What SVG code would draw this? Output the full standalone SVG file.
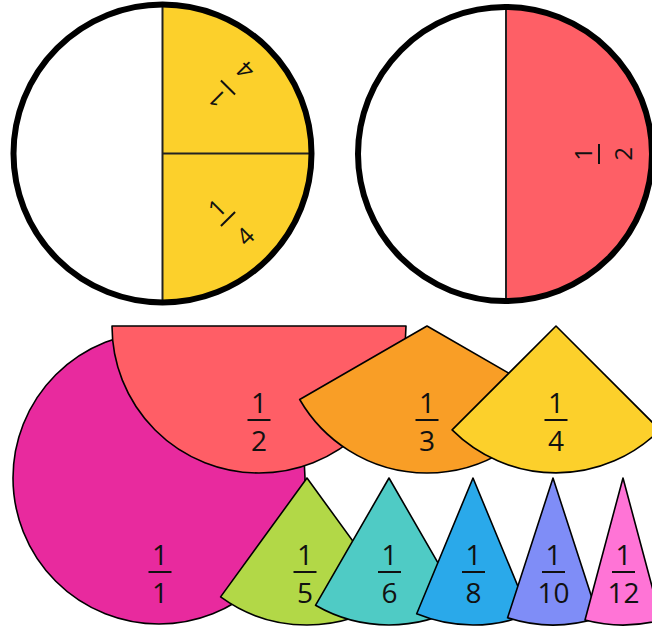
<svg xmlns="http://www.w3.org/2000/svg" width="652" height="626" viewBox="0 0 652 626">
<style>
  .piece { stroke: #000; stroke-width: 1.6; stroke-linejoin: round; }
  .num { font-family: "Open Sans", "Noto Sans", sans-serif; font-size: 28px; fill: #111; text-anchor: middle; }
  .snum { font-family: "Open Sans", "Noto Sans", sans-serif; font-size: 24px; fill: #111; text-anchor: middle; }
  .bar { stroke: #111; stroke-width: 2; }
  .outline { fill: none; stroke: #000; stroke-width: 6; }
  .div { stroke: #222; stroke-width: 2; }
</style>
<rect width="652" height="626" fill="#fff"/>

<!-- Top-left circle: two quarters -->
<g id="circle-quarters">
  <circle cx="162.5" cy="153.5" r="149" fill="#fff"/>
  <path d="M162.5,4.5 A149,149 0 0 1 311.5,153.5 L162.5,153.5 Z" fill="#FCD02B"/>
  <path d="M162.5,302.5 A149,149 0 0 0 311.5,153.5 L162.5,153.5 Z" fill="#FCD02B"/>
  <line class="div" x1="162.5" y1="4.5" x2="162.5" y2="302.5"/>
  <line class="div" x1="162.5" y1="153.5" x2="311.5" y2="153.5"/>
  <circle class="outline" cx="162.5" cy="153.5" r="149"/>
  <g transform="translate(228,87.5) rotate(225)">
    <text class="snum" x="0" y="-7">1</text>
    <line class="bar" x1="-10" y1="0" x2="10" y2="0"/>
    <text class="snum" x="0" y="33">4</text>
  </g>
  <g transform="translate(228,219) rotate(-45)">
    <text class="snum" x="0" y="-7">1</text>
    <line class="bar" x1="-10" y1="0" x2="10" y2="0"/>
    <text class="snum" x="0" y="33">4</text>
  </g>
</g>

<!-- Top-right circle: one half -->
<g id="circle-half">
  <circle cx="505" cy="154" r="147" fill="#fff"/>
  <path d="M506,7 A147,147 0 0 1 506,301 Z" fill="#FE5F66"/>
  <line class="div" x1="506" y1="7" x2="506" y2="301"/>
  <circle class="outline" cx="505" cy="154" r="147"/>
  <g transform="translate(599,154) rotate(-90)">
    <text class="snum" x="0" y="-7">1</text>
    <line class="bar" x1="-10" y1="0" x2="10" y2="0"/>
    <text class="snum" x="0" y="33">2</text>
  </g>
</g>

<!-- Bottom pieces -->
<g id="piece-1-1">
  <circle class="piece" cx="159" cy="478" r="146" fill="#E82A9E"/>
  <text class="num" x="160" y="565">1</text>
  <line class="bar" x1="148.5" y1="572" x2="171.5" y2="572"/>
  <text class="num" x="160" y="603">1</text>
</g>

<g id="piece-1-2">
  <path class="piece" d="M259,326 L112,326 A147,147 0 0 0 406,326 Z" fill="#FF5E66"/>
  <text class="num" x="259" y="413">1</text>
  <line class="bar" x1="247.5" y1="420" x2="270.5" y2="420"/>
  <text class="num" x="259" y="451">2</text>
</g>

<g id="piece-1-3">
  <path class="piece" d="M427,326 L299.7,399.5 A147,147 0 0 0 554.3,399.5 Z" fill="#F99E26"/>
  <text class="num" x="427" y="413">1</text>
  <line class="bar" x1="415.5" y1="420" x2="438.5" y2="420"/>
  <text class="num" x="427" y="451">3</text>
</g>

<g id="piece-1-4">
  <path class="piece" d="M556,326 L452.1,429.9 A147,147 0 0 0 659.9,429.9 Z" fill="#FCD02B"/>
  <text class="num" x="556" y="413">1</text>
  <line class="bar" x1="544.5" y1="420" x2="567.5" y2="420"/>
  <text class="num" x="556" y="451">4</text>
</g>

<g id="piece-1-5">
  <path class="piece" d="M307,478 L220.6,596.9 A147,147 0 0 0 393.4,596.9 Z" fill="#B2D847"/>
  <text class="num" x="305" y="565">1</text>
  <line class="bar" x1="293.5" y1="572" x2="316.5" y2="572"/>
  <text class="num" x="305" y="603">5</text>
</g>

<g id="piece-1-6">
  <path class="piece" d="M389,478 L315.5,605.3 A147,147 0 0 0 462.5,605.3 Z" fill="#4FCBC5"/>
  <text class="num" x="389.5" y="565">1</text>
  <line class="bar" x1="378" y1="572" x2="401" y2="572"/>
  <text class="num" x="389.5" y="603">6</text>
</g>

<g id="piece-1-8">
  <path class="piece" d="M473,478 L416.7,613.8 A147,147 0 0 0 529.3,613.8 Z" fill="#2AA9EA"/>
  <text class="num" x="473.5" y="565">1</text>
  <line class="bar" x1="462" y1="572" x2="485" y2="572"/>
  <text class="num" x="473.5" y="603">8</text>
</g>

<g id="piece-1-10">
  <path class="piece" d="M553,478 L507.6,617.8 A147,147 0 0 0 598.4,617.8 Z" fill="#7F8DF7"/>
  <text class="num" x="553.5" y="565">1</text>
  <line class="bar" x1="542" y1="572" x2="565" y2="572"/>
  <text class="num" x="553.5" y="603">10</text>
</g>

<g id="piece-1-12">
  <path class="piece" d="M623,478 L585,620 A147,147 0 0 0 661,620 Z" fill="#FF74D6"/>
  <text class="num" x="623.5" y="565">1</text>
  <line class="bar" x1="612" y1="572" x2="635" y2="572"/>
  <text class="num" x="623.5" y="603">12</text>
</g>

<g id="connectors"></g>
</svg>
